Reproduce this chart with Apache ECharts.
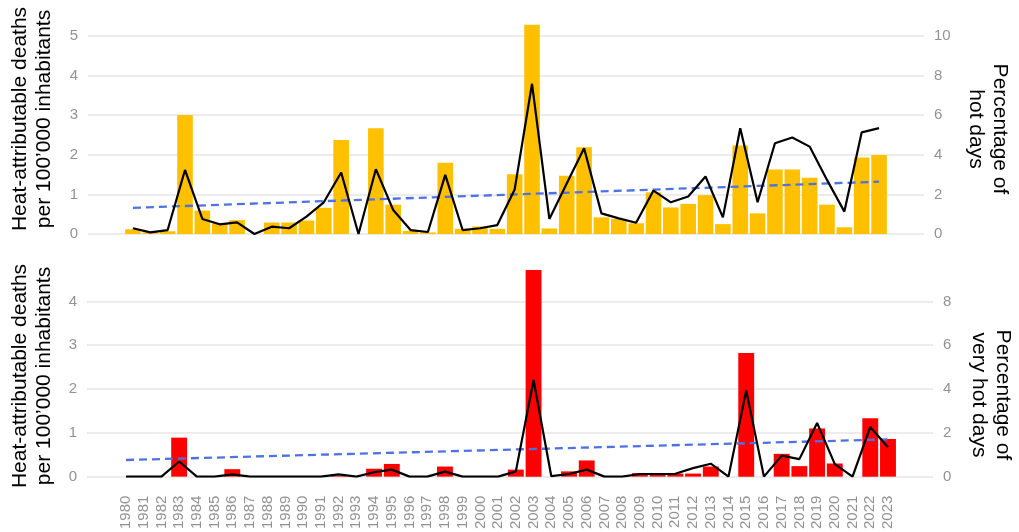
<!DOCTYPE html>
<html>
<head>
<meta charset="utf-8">
<script src="https://cdn.jsdelivr.net/npm/echarts@6/dist/echarts.min.js"></script>
<style>html,body{margin:0;padding:0;background:#fff}#c{width:1019px;height:532px}</style>
</head>
<body>
<div id="c"></div>
<script>
var years = [];
for (var y = 1980; y <= 2023; y++) years.push(y);

// Top panel: hot days
var hotDeaths = [0.12,0.04,0.07,3.00,0.59,0.27,0.35,0.00,0.29,0.29,0.34,0.66,2.37,0.00,2.67,0.74,0.08,0.04,1.80,0.13,0.19,0.13,1.51,5.28,0.14,1.47,2.19,0.42,0.38,0.27,1.05,0.67,0.76,0.98,0.25,2.23,0.52,1.63,1.63,1.42,0.74,0.17,1.93,1.99];
var hotDaysPct = [0.29,0.08,0.20,3.23,0.76,0.49,0.59,0.00,0.37,0.29,0.88,1.60,3.10,0.00,3.27,1.21,0.20,0.10,2.98,0.20,0.29,0.45,2.25,7.58,0.76,2.55,4.33,1.04,0.79,0.57,2.19,1.60,1.89,2.90,0.84,5.34,1.60,4.58,4.87,4.41,2.73,1.13,5.13,5.34];
var hotTrend = [0.66, 1.32];

// Bottom panel: very hot days
var veryHotDeaths = [0,0,0,0.89,0,0,0.17,0,0,0,0,0,0.02,0,0.18,0.29,0,0,0.23,0,0,0,0.16,4.72,0,0.12,0.37,0,0,0.08,0.07,0.07,0.07,0.23,0,2.82,0,0.52,0.24,1.10,0.30,0,1.33,0.86];
var veryHotDaysPct = [0,0,0,0.69,0,0,0.10,0,0,0,0,0,0.10,0,0.20,0.32,0,0,0.23,0,0,0,0.24,4.41,0.02,0.12,0.32,0,0,0.12,0.12,0.13,0.39,0.59,0,3.93,0,0.96,0.80,2.45,0.57,0,2.27,1.34];
var veryHotTrend = [0.38, 0.85];

function pairs(vals){ return years.map(function(y,i){ return [y, vals[i]]; }); }
function trendPairs(t){ return [[years[0], t[0]], [years[years.length-1], t[1]]]; }

var gray = '#929292';
var gridColor = '#ececec';
var ff = 'Liberation Sans, Arial, sans-serif';
var nameStyle = {fontFamily:ff, fontSize:21, lineHeight:24, fill:'#000', align:'center', verticalAlign:'middle'};

function yAxisLeft(gi, max){
  return {type:'value', gridIndex:gi, position:'left', min:0, max:max, interval:1,
    axisLine:{show:false}, axisTick:{show:false},
    axisLabel:{color:gray, fontSize:15, margin:10, showMaxLabel:false, fontFamily:ff},
    splitLine:{show:true, showMaxLine:false, lineStyle:{color:gridColor, width:2}}};
}
function yAxisRight(gi, max){
  return {type:'value', gridIndex:gi, position:'right', min:0, max:max, interval:2,
    axisLine:{show:false}, axisTick:{show:false},
    axisLabel:{color:gray, fontSize:15, margin:10, showMaxLabel:false, fontFamily:ff},
    splitLine:{show:false}};
}

var option = {
  animation:false,
  backgroundColor:'#fff',
  grid:[
    {left:88, right:95, top:16, bottom:298},
    {left:87, right:86, top:262, bottom:53.3}
  ],
  xAxis:[
    {type:'value', gridIndex:0, min:1977.41, max:2025.59,
      axisLine:{show:false}, axisTick:{show:false}, axisLabel:{show:false}, splitLine:{show:false}},
    {type:'value', gridIndex:1, min:1977.8, max:2025.54,
      axisLine:{show:false}, axisTick:{show:false}, splitLine:{show:false},
      axisLabel:{customValues:years, rotate:90, margin:19, color:gray, fontSize:15,
        fontFamily:ff, formatter:function(v){return String(v);}}}
  ],
  yAxis:[
    yAxisLeft(0, 5.5), yAxisRight(0, 11),
    yAxisLeft(1, 4.9), yAxisRight(1, 9.8)
  ],
  series:[
    {type:'bar', xAxisIndex:0, yAxisIndex:0, data:pairs(hotDeaths), barWidth:15.6, itemStyle:{color:'#FFC000'}, z:2},
    {type:'line', xAxisIndex:0, yAxisIndex:0, data:trendPairs(hotTrend), symbol:'none',
      lineStyle:{color:'#4f72e3', width:2.3, type:[8,5]}, z:3},
    {type:'line', xAxisIndex:0, yAxisIndex:1, data:pairs(hotDaysPct), symbol:'none',
      lineStyle:{color:'#000', width:2.2}, z:4},
    {type:'bar', xAxisIndex:1, yAxisIndex:2, data:pairs(veryHotDeaths), barWidth:15.9, itemStyle:{color:'#FF0000'}, z:2},
    {type:'line', xAxisIndex:1, yAxisIndex:2, data:trendPairs(veryHotTrend), symbol:'none',
      lineStyle:{color:'#4f72e3', width:2.3, type:[8,5]}, z:3},
    {type:'line', xAxisIndex:1, yAxisIndex:3, data:pairs(veryHotDaysPct), symbol:'none',
      lineStyle:{color:'#000', width:2.2}, z:4}
  ],
  graphic:[
    {type:'text', x:32, y:119, rotation:Math.PI/2, style:Object.assign({text:'Heat-attributable deaths\nper 100\u2019000 inhabitants'}, nameStyle)},
    {type:'text', x:32, y:376, rotation:Math.PI/2, style:Object.assign({text:'Heat-attributable deaths\nper 100\u2019000 inhabitants'}, nameStyle)},
    {type:'text', x:988, y:129, rotation:-Math.PI/2, style:Object.assign({text:'Percentage of\nhot days'}, nameStyle)},
    {type:'text', x:991, y:395, rotation:-Math.PI/2, style:Object.assign({text:'Percentage of\nvery hot days'}, nameStyle)}
  ]
};
var chart = echarts.init(document.getElementById('c'), null, {renderer:'canvas'});
chart.setOption(option);
</script>
</body>
</html>
